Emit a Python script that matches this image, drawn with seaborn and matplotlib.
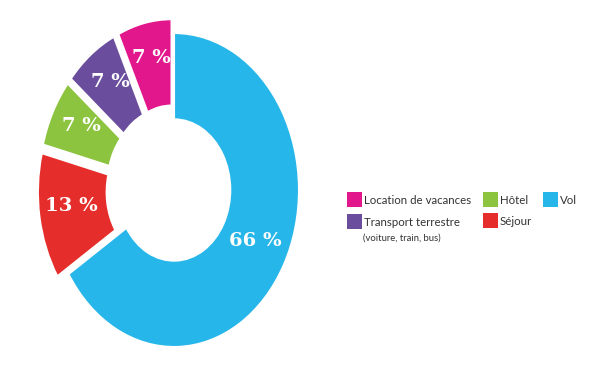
import matplotlib
matplotlib.use("Agg")
import matplotlib.pyplot as plt
import seaborn as sns
import numpy as np
from matplotlib.patches import Rectangle

sns.set_theme(style="white")

# Data
categories = ["Vol", "Séjour", "Hôtel", "Transport terrestre", "Location de vacances"]
values = [66, 13, 7, 7, 7]
labels_pct = ["66 %", "13 %", "7 %", "7 %", "7 %"]
colors = ["#27B6E9", "#E52E2B", "#8CC43F", "#6A4E9D", "#E3178C"]
explode = [0.0, 0.09, 0.09, 0.09, 0.09]

W, H = 600, 372
fig = plt.figure(figsize=(6.0, 3.72), dpi=100)
fig.patch.set_facecolor("white")

# axes geometry (pixels): center (174,190), rx=125, ry=157
cx, cy, rx, ry = 174, 190, 125, 157
xl = (-1.3, 1.3)
yl = (-(H - cy) / ry, cy / ry)
left_px = cx + xl[0] * rx
width_px = (xl[1] - xl[0]) * rx
ax = fig.add_axes([left_px / W, 0, width_px / W, 1.0])
ax.pie(values, colors=colors, startangle=90, counterclock=False,
       explode=explode, radius=1.0,
       wedgeprops=dict(width=0.55, edgecolor="white", linewidth=1.5))
ax.set_aspect("auto")
ax.set_xlim(*xl)
ax.set_ylim(*yl)
ax.axis("off")

# percentage labels
start = 90.0
total = sum(values)
for v, lab, ex in zip(values, labels_pct, explode):
    span = 360.0 * v / total
    mid = np.deg2rad(start - span / 2)
    r = 0.74 + ex
    ax.text(r * np.cos(mid), r * np.sin(mid) + 0.03, lab, ha="center", va="center",
            color="white", fontsize=14, fontweight="bold",
            family=["DejaVu Serif"])
    start -= span

# legend (manual)
font = ["Lato", "DejaVu Sans"]
legend_items = [
    ("Location de vacances", "#E3178C", 347, 192),
    ("Transport terrestre", "#6A4E9D", 347, 214),
    ("Hôtel", "#8CC43F", 483, 192),
    ("Séjour", "#E52E2B", 483, 213),
    ("Vol", "#27B6E9", 543, 192),
]
sq = 15
for name, col, x, y in legend_items:
    fig.patches.append(Rectangle((x / W, 1 - (y + sq) / H), sq / W, sq / H,
                                 transform=fig.transFigure, facecolor=col,
                                 edgecolor="none"))
    fig.text((x + sq + 2) / W, 1 - (y + sq / 2 + 1) / H, name, ha="left",
             va="center", fontsize=8.3, color="#333333", family=font)
fig.text(363 / W, 1 - 238 / H, "(voiture, train, bus)", ha="left", va="center",
         fontsize=6.8, color="#333333", family=font)

fig.savefig("out.png", dpi=100, facecolor="white")
